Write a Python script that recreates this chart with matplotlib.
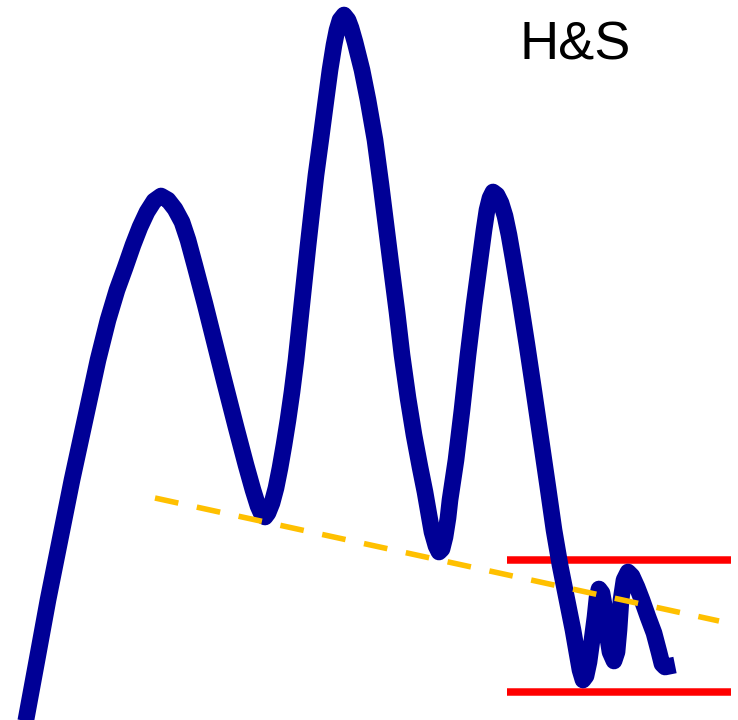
import matplotlib
matplotlib.use("Agg")
import matplotlib.pyplot as plt

# price path (x = time, y = level, y axis points down)
x_curve = [25, 37, 48, 60, 72, 85, 98, 108, 117, 125, 133, 140, 147, 154, 161,
           168, 175, 182, 188, 195, 205, 214, 224, 236, 246, 253, 258, 262, 265,
           268, 272, 276, 280, 284, 288, 292, 296, 300, 304, 308, 312, 316, 321,
           326, 330, 334, 337, 340, 344, 348, 351, 355, 359, 362, 368, 375, 381,
           386, 391, 397, 402, 408, 414, 420, 425, 429, 432, 436, 439, 442,
           445, 448, 450, 456, 462, 468, 474, 480, 484, 487, 490, 493, 497, 501,
           505, 509, 513, 520, 527, 534, 541, 548, 554, 560, 567, 573, 577, 580,
           583, 586, 589, 592, 595, 597, 599, 602, 605, 607, 610, 614, 617, 619,
           621, 624, 628, 632, 637, 642, 648, 654, 659, 662, 665, 675]
y_curve = [725, 660, 600, 540, 480, 420, 360, 320, 290, 268, 245, 227, 212, 201, 196,
           200, 209, 222, 240, 266, 304, 340, 380, 427, 465, 490, 506, 515, 517,
           513, 503, 488, 468, 445, 420, 392, 360, 322, 284, 246, 210, 175, 138,
           100, 70, 45, 30, 20, 15, 20, 28, 42, 58, 70, 100, 140, 185,
           225, 265, 312, 355, 398, 435, 467, 492, 515, 532, 546, 552, 549,
           537, 518, 500, 460, 410, 355, 305, 260, 230, 210, 198, 192, 195, 203,
           216, 235, 258, 300, 345, 392, 440, 488, 530, 565, 600, 630, 653, 670,
           680, 676, 662, 640, 617, 598, 589, 593, 610, 633, 652, 661, 652, 630,
           600, 580, 572, 576, 587, 600, 617, 633, 652, 664, 667, 665]

# neckline
neck_x = [155, 719]
neck_y = [498, 621]

# target range
range_x = [507, 731]
range_top = 559.5
range_bottom = 692

label = "H&S"

fig = plt.figure(figsize=(7.38, 7.20), dpi=100)
ax = fig.add_axes([0, 0, 1, 1])
ax.set_xlim(0, 738)
ax.set_ylim(720, 0)
ax.axis('off')

ax.plot(x_curve, y_curve, color='#000096', linewidth=12,
        solid_joinstyle='round', solid_capstyle='butt', zorder=2)
ax.plot(neck_x, neck_y, color='#FFC000', linewidth=4,
        dashes=(4.3, 3.4), dash_capstyle='butt', zorder=3)
ax.hlines([range_top, range_bottom], range_x[0], range_x[1],
          colors='#FF0000', linewidth=5.4, zorder=1)

ax.text(519, 60, label, fontsize=39, family='Liberation Sans',
        ha='left', va='baseline', color='black')

fig.savefig('out.png', dpi=100)
